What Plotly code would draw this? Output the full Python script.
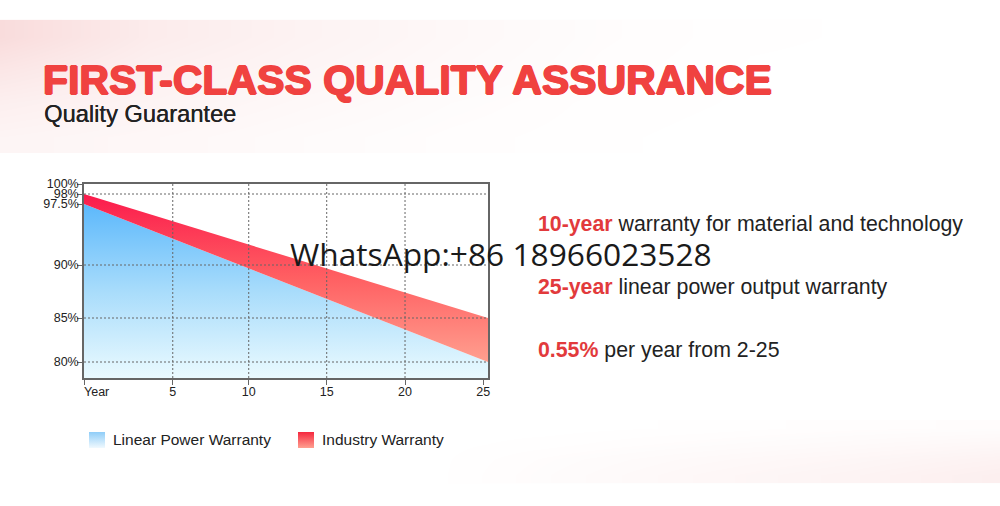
import plotly.graph_objects as go
import numpy as np

W, H = 1000, 506

# --- chart data ---
year_ends = [-0.6, 25.3]
industry_upper_pct = [98, 85]
linear_lower_pct = [97.5, 80]
x_tick_pos = [-0.6, 5.09, 9.96, 14.96, 19.98, 25]
x_tick_text = ["", "5", "10", "15", "20", "25"]
x_grid = [5.09, 9.96, 14.96, 19.98]
y_tick_pct = [80, 85, 90, 97.5, 98, 100]
y_tick_text = ["80%", "85%", "90%", "97.5%", "98%", "100%"]
y_tick_axis = [82.2, 86.6, 91.9, 98.0, 99.0, 100.0]   # the printed scale is not uniform
y_grid_pct = [80, 85, 90, 98]
y_bottom = 80.6

# background wash (0 = white, 1 = strongest pink)
top_x = [0, 150, 300, 450, 600, 750, 1000]
top_y = [36.6, 70, 103.3, 136.6]
top_z = [[1.00, 0.55, 0.35, 0.20, 0.08, 0.02, 0.0],
         [0.70, 0.42, 0.28, 0.16, 0.06, 0.01, 0.0],
         [0.45, 0.32, 0.20, 0.10, 0.03, 0.01, 0.0],
         [0.30, 0.22, 0.13, 0.06, 0.02, 0.0, 0.0]]
bot_x = [430, 550, 700, 850, 1000]
bot_y = [427.9, 443.6, 459.4, 475.1]
bot_z = [[0, 0.0, 0.02, 0.06, 0.08],
         [0, 0.03, 0.09, 0.15, 0.22],
         [0, 0.08, 0.17, 0.25, 0.36],
         [0, 0.10, 0.22, 0.32, 0.46]]
wash = [[0, "#ffffff"], [1, "#f9dcdc"]]

def to_axis(p):
    return np.interp(p, y_tick_pct, y_tick_axis).tolist()

fig = go.Figure()

# background layer on x / y, spanning the whole page
for xs, ys, zs in [(top_x, top_y, top_z), (bot_x, bot_y, bot_z)]:
    fig.add_trace(go.Heatmap(x=xs, y=ys, z=zs, zmin=0, zmax=1, colorscale=wash, zsmooth="best",
                             showscale=False, hoverinfo="skip", xaxis="x", yaxis="y"))

# legend swatches
for name, x0, x1, c in [("Linear Power Warranty swatch", 89, 105, ["#8fcdf8", "#f0f9fe"]),
                        ("Industry Warranty swatch", 298, 314, ["#f5283f", "#ffa090"])]:
    fig.add_trace(go.Scatter(x=[x0, x1, x1, x0, x0], y=[432, 432, 448, 448, 432], mode="lines",
                             line=dict(width=0), fill="toself", name=name, hoverinfo="skip",
                             fillgradient=dict(type="vertical", start=432, stop=448,
                                               colorscale=[[0, c[0]], [1, c[1]]]),
                             xaxis="x", yaxis="y", showlegend=False))

# chart layer on x2 / y2
lower_y = to_axis(linear_lower_pct)
upper_y = to_axis(industry_upper_pct)
fig.add_trace(go.Scatter(x=year_ends, y=[y_bottom, y_bottom], mode="lines", line=dict(width=0),
                         showlegend=False, hoverinfo="skip", xaxis="x2", yaxis="y2"))
fig.add_trace(go.Scatter(x=year_ends, y=lower_y, mode="lines", line=dict(width=0), fill="tonexty",
                         name="Linear Power Warranty", xaxis="x2", yaxis="y2", showlegend=False,
                         fillgradient=dict(type="vertical", start=98.0, stop=y_bottom,
                                           colorscale=[[0, "#5cb8fb"], [0.5, "#a8dcfb"], [1, "#eafaff"]])))
fig.add_trace(go.Scatter(x=year_ends, y=upper_y, mode="lines", line=dict(width=0), fill="tonexty",
                         name="Industry Warranty", xaxis="x2", yaxis="y2", showlegend=False,
                         fillgradient=dict(type="vertical", start=99.0, stop=82.3,
                                           colorscale=[[0, "#fb1a4c"], [0.5, "#ff5f62"], [1, "#ff9e8e"]])))

# dotted grid above the fills
gx, gy = [], []
for v in x_grid:
    gx += [v, v, None]; gy += [y_bottom, 100, None]
for p in y_grid_pct:
    a = to_axis([p])[0]
    gx += [-0.6, 25.3, None]; gy += [a, a, None]
fig.add_trace(go.Scatter(x=gx, y=gy, mode="lines", line=dict(color="#666666", width=1, dash="2px,2px"),
                         showlegend=False, hoverinfo="skip", xaxis="x2", yaxis="y2"))

def text(px, py, s, size, color="#222222", family="Liberation Sans", anchor="left", **font_kw):
    fig.add_annotation(x=px / W, y=1 - py / H, xref="paper", yref="paper", text=s, showarrow=False,
                       xanchor=anchor, yanchor="middle", borderpad=0, borderwidth=0,
                       font=dict(size=size, color=color, family=family, **font_kw))

RED = "#e23a3c"
thick = "0.9px 0 #f04240, -0.9px 0 #f04240, 0 0.7px #f04240, 0 -0.7px #f04240"
text(43, 80, "<b>FIRST-CLASS QUALITY ASSURANCE</b>", 41, color="#f04240", shadow=thick)
text(44, 114, "Quality Guarantee", 23.7, shadow="0.3px 0 #222222")
text(84, 391.5, "Year", 12.5)
text(113, 439, "Linear Power Warranty", 15.5)
text(322, 439, "Industry Warranty", 15.5)
text(538, 224, f"<b><span style='color:{RED}'>10-year</span></b> warranty for material and technology", 21.3)
text(538, 287, f"<b><span style='color:{RED}'>25-year</span></b> linear power output warranty", 21.3)
text(538, 350, f"<b><span style='color:{RED}'>0.55%</span></b> per year from 2-25", 21.3)
text(290, 253, "WhatsApp:+86 18966023528", 31.7, family="Open Sans", color="#1a1a1a")

frame = dict(showline=True, linecolor="#666666", linewidth=1.5, mirror=True, showgrid=False,
             zeroline=False, ticks="outside", tickcolor="#666666", ticklen=5, tickwidth=1,
             automargin=False,
             tickfont=dict(size=12.5, color="#222222", family="Liberation Sans"), tickmode="array")

fig.update_layout(
    template="none",
    width=W, height=H, margin=dict(l=0, r=0, t=0, b=0, pad=0), autosize=False,
    paper_bgcolor="white", plot_bgcolor="rgba(0,0,0,0)", showlegend=False,
    xaxis=dict(domain=[0, 1], range=[0, W], visible=False, automargin=False),
    yaxis=dict(domain=[0, 1], range=[H, 0], visible=False, automargin=False),
    xaxis2=dict(domain=[84 / W, 488 / W], range=[-0.6, 25.3], anchor="y2", ticklabelstandoff=-4,
                tickvals=x_tick_pos, ticktext=x_tick_text, **frame),
    yaxis2=dict(domain=[1 - 378 / H, 1 - 184 / H], range=[y_bottom, 100], anchor="x2", ticklabelstandoff=-4,
                tickvals=y_tick_axis, ticktext=y_tick_text, **frame),
)
fig.write_html("out.html", config=dict(displayModeBar=False),
               post_script="document.body.style.margin='0';document.documentElement.style.overflow='hidden';")
